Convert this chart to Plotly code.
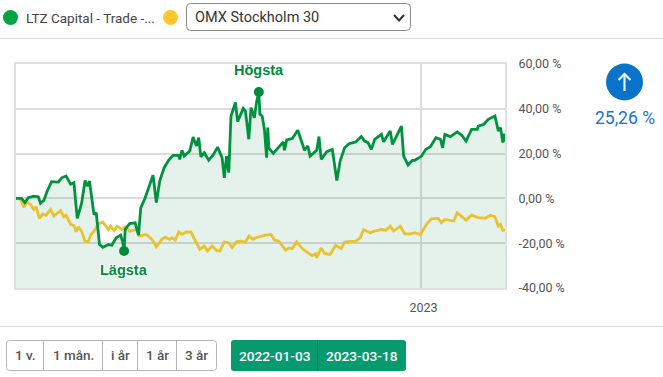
import pandas as pd
import plotly.graph_objects as go

START_DATE = "2022-01-03"
END_DATE = "2023-03-18"

ltz_days = [0,5,8,11,16,20,22,25,28,32,38,41,45,49,52,55,59,62,64,66,70,72,75,78,83,86,90,94,96,97,98,102,107,110,112,116,123,126,129,133,137,141,146,147,149,151,156,159,162,164,166,169,173,177,181,185,187,189,191,193,197,199,204,206,209,211,214,216,218,219,221,223,225,226,227,231,240,241,243,248,253,257,259,262,264,270,272,274,279,284,288,291,295,299,305,310,313,316,319,322,328,330,336,338,342,346,348,352,356,358,361,364,368,372,377,381,383,385,390,396,400,404,409,414,415,420,424,430,433,435,437,438,439]
ltz_values = [0,0,-1.9,0.3,1.0,0.7,-2.2,-0.9,3.3,7.5,7.3,9.2,10,6.3,7,-8.9,-1.9,8,5.5,7.7,-7.2,-6.4,-20.6,-21.8,-20.6,-20.9,-17.6,-16.4,-19.8,-23.5,-13.9,-11.2,-10.9,-16.4,-4.2,0.3,10.4,-1.9,7.7,13.7,17,19.2,19.2,17.4,21.5,18.9,21.2,27.4,23.4,27.1,18.6,20.4,17.1,19.4,22.9,18.2,9.2,18.9,11.5,36.8,42.8,34.3,40.2,39,26.4,40.5,36,43.2,47.5,37.5,36.8,30.8,18.2,31.6,22.4,20.1,25.2,21.5,26.1,26.7,30.4,24.1,21.5,23.4,18.9,21.5,27.6,17.4,20.9,21.9,8,16.7,22.6,24.4,25.2,27.6,25.6,24.9,21.9,26.4,28.6,25.3,30.1,24.1,27.9,32.3,18.9,14.9,17.1,17,17.9,18.9,21.9,23.1,27.1,26.4,22.6,28.6,27.6,29.7,28.3,25.6,30.8,30.8,32.3,33.1,35.3,36.8,30.1,31.6,24.9,28.9,25.26]

omx_days = [0,4,7,10,13,16,18,21,24,27,31,34,40,43,45,49,52,54,56,59,62,65,67,70,74,78,83,85,88,91,95,98,102,108,111,117,122,126,131,134,138,140,143,146,149,153,157,161,165,169,172,176,180,183,187,191,194,198,202,206,209,213,215,219,224,229,232,236,242,245,248,252,257,262,266,269,270,274,277,282,287,292,295,305,309,312,318,322,328,332,336,339,345,349,354,358,363,369,373,379,382,385,393,396,400,404,409,415,421,426,430,433,435,437,439]
omx_values = [0,-0.4,-3.9,-1.6,-2.7,-4.9,-3.7,-8.9,-6.9,-7.5,-4.9,-7.9,-5.4,-8.3,-7.6,-11.6,-12.1,-14.9,-12.7,-14.9,-19.1,-19.4,-16.4,-14.6,-11.3,-10.6,-13.9,-12.4,-14.3,-12.4,-13.9,-12.7,-14.6,-13.9,-16.8,-16.1,-18.3,-21.6,-18.3,-17.3,-18.3,-17.6,-18.6,-15,-16.1,-15,-15,-19.1,-22.8,-21.3,-23.5,-21.3,-23.2,-23.5,-19.4,-19.8,-22,-19.4,-19.1,-19.5,-16.8,-18.3,-17.6,-17.1,-16.4,-16.1,-18.6,-19.1,-23.1,-22.1,-22.4,-19.4,-22.4,-24.3,-25.5,-24.7,-26.5,-22.1,-24.6,-25,-20.9,-22.4,-19.5,-19.1,-17.6,-13.9,-15.3,-14.6,-13.9,-14.2,-12.4,-14.6,-12.4,-15.8,-15.8,-15.3,-16.1,-11.2,-9.1,-8.9,-10.9,-9.4,-10.1,-6.4,-7.9,-9.7,-7.5,-8.6,-8.9,-7.5,-8.2,-12.4,-11.6,-14.3,-13.9]

y_ticks = [60, 40, 20, 0, -20, -40]
y_tick_labels = ["60,00 %", "40,00 %", "20,00 %", "0,00 %", "-20,00 %", "-40,00 %"]
x_tick_dates = ["2023-01-02"]
x_tick_labels = ["2023"]
high_day, high_value = 218, 47.5
low_day, low_value = 97, -23.5
period_buttons = ["1 v.", "1 mån.", "i år", "1 år", "3 år"]
date_buttons = ["2022-01-03", "2023-03-18"]
series_names = ["LTZ Capital - Trade -...", "OMX Stockholm 30"]
change_label = "25,26 %"

W, H = 663, 377
GREEN = "#00933f"
YELLOW = "#e8c230"
FONT = "Roboto"

def to_dates(days):
    return pd.Timestamp(START_DATE) + pd.to_timedelta(days, unit="D")

def X(p):
    return p / W

def Y(p):
    return 1 - p / H

def rrect(x0, y0, x1, y1, r):
    return (f"M{X(x0+r)},{Y(y0)} L{X(x1-r)},{Y(y0)} Q{X(x1)},{Y(y0)} {X(x1)},{Y(y0+r)} "
            f"L{X(x1)},{Y(y1-r)} Q{X(x1)},{Y(y1)} {X(x1-r)},{Y(y1)} L{X(x0+r)},{Y(y1)} "
            f"Q{X(x0)},{Y(y1)} {X(x0)},{Y(y1-r)} L{X(x0)},{Y(y0+r)} Q{X(x0)},{Y(y0)} {X(x0+r)},{Y(y0)} Z")

ltz_x = to_dates(ltz_days)
omx_x = to_dates(omx_days)

fig = go.Figure()
# area from the axis floor up to the LTZ line
fig.add_trace(go.Scatter(x=ltz_x, y=[-40] * len(ltz_days), mode="lines", line=dict(width=0),
                         hoverinfo="skip", showlegend=False))
fig.add_trace(go.Scatter(x=ltz_x, y=ltz_values, mode="lines", line=dict(width=0),
                         fill="tonexty", fillcolor="rgba(0,135,65,0.105)",
                         hoverinfo="skip", showlegend=False))
fig.add_trace(go.Scatter(x=omx_x, y=omx_values, mode="lines", name=series_names[1],
                         line=dict(color=YELLOW, width=2.8), showlegend=False))
fig.add_trace(go.Scatter(x=ltz_x, y=ltz_values, mode="lines", name=series_names[0],
                         line=dict(color=GREEN, width=2.8), showlegend=False))
fig.add_trace(go.Scatter(x=to_dates([high_day, low_day]), y=[high_value, low_value], mode="markers",
                         marker=dict(color="#008a3c", size=10), hoverinfo="skip", showlegend=False))

shapes = []
annotations = []

def text(x, y, s, size=14, color="#444", weight=400, anchor="left", family=FONT):
    annotations.append(dict(x=X(x), y=Y(y), xref="paper", yref="paper", text=s, showarrow=False,
                            xanchor=anchor, yanchor="middle", borderpad=0,
                            font=dict(family=family, size=size, color=color, weight=weight)))

def line(x0, y0, x1, y1, color, width=1):
    shapes.append(dict(type="line", xref="paper", yref="paper", x0=X(x0), y0=Y(y0), x1=X(x1), y1=Y(y1),
                       line=dict(color=color, width=width)))

def circle(cx, cy, r, color):
    shapes.append(dict(type="circle", xref="paper", yref="paper", x0=X(cx-r), x1=X(cx+r),
                       y0=Y(cy-r), y1=Y(cy+r), fillcolor=color, line=dict(width=0)))

def path(d, fill=None, lcolor=None, width=1):
    shapes.append(dict(type="path", xref="paper", yref="paper", path=d,
                       fillcolor=fill if fill else "rgba(0,0,0,0)",
                       line=dict(color=lcolor if lcolor else "rgba(0,0,0,0)", width=width)))

# header
circle(10.5, 17.5, 7.5, "#00a441")
text(25, 17.5, series_names[0], size=13.5, color="#444")
circle(170.5, 17.5, 7.5, "#ffc72c")
path(rrect(186.5, 3.5, 410.5, 30.5, 4), fill="#fff", lcolor="#8a8a8a", width=1)
text(194, 17.5, series_names[1], size=14.5, color="#333", weight=400)
path(f"M{X(394)},{Y(15)} L{X(399)},{Y(20.5)} L{X(404)},{Y(15)}", lcolor="#333", width=2)
line(0, 38.5, W, 38.5, "#d9d9d9", 1)

# change indicator
circle(624.5, 82, 18.5, "#0a72c8")
line(624.5, 91, 624.5, 74, "#e6f1fb", 2.2)
path(f"M{X(618.5)},{Y(80)} L{X(624.5)},{Y(74)} L{X(630.5)},{Y(80)}", lcolor="#e6f1fb", width=2.2)
text(625, 118, change_label, size=17.5, color="#1a73c8", anchor="center")

# footer
line(0, 326.5, W, 326.5, "#d9d9d9", 1)
path(rrect(6.5, 340.5, 216.5, 370.5, 3), fill="#fff", lcolor="#b5b5b5", width=1)
edges = [6.5, 43.5, 102.5, 137.5, 176.5, 216.5]
for i, label in enumerate(period_buttons):
    if i:
        line(edges[i], 340.5, edges[i], 370.5, "#b5b5b5", 1)
    text((edges[i] + edges[i + 1]) / 2, 355, label, size=13.5, color="#555", weight=500, anchor="center")
path(rrect(231, 340, 406, 371, 3), fill="#069b6f")
line(317.5, 340, 317.5, 371, "#057f5b", 1)
text(274.5, 355.5, date_buttons[0], size=13.7, color="#fff", weight=500, anchor="center")
text(362, 355.5, date_buttons[1], size=13.7, color="#fff", weight=500, anchor="center")

# extreme labels
halo = "1px 1px 1px #fff, -1px -1px 1px #fff, 1px -1px 1px #fff, -1px 1px 1px #fff"
for s, d, v, shift, dx in [("Högsta", high_day, high_value, 22, 0), ("Lägsta", low_day, low_value, -19, -0.5)]:
    annotations.append(dict(x=to_dates([d])[0], y=v, xref="x", yref="y", text=s, showarrow=False,
                            yshift=shift, xshift=dx, xanchor="center", yanchor="middle",
                            font=dict(family="Liberation Sans", size=14.5, color="#008a3c", weight=700, shadow=halo)))

fig.update_layout(
    width=W, height=H, autosize=False, margin=dict(l=0, r=0, t=0, b=0),
    paper_bgcolor="#fff", plot_bgcolor="#fff", showlegend=False,
    shapes=shapes, annotations=annotations,
    xaxis=dict(domain=[16 / W, 505 / W], type="date", range=[START_DATE, END_DATE], automargin=False,
               tickvals=x_tick_dates, ticktext=x_tick_labels, ticks="", ticklen=0,
               ticklabelstandoff=7, ticklabelshift=2,
               tickfont=dict(family=FONT, size=12.5, color="#555"),
               showgrid=True, gridcolor="#dcdcdc", gridwidth=2, zeroline=False,
               showline=True, mirror=True, linecolor="#e0e0e0", linewidth=2),
    yaxis=dict(domain=[1 - 288 / H, 1 - 64 / H], range=[-40, 60], side="right", automargin=False,
               tickvals=y_ticks, ticktext=y_tick_labels, ticks="", ticklabelstandoff=9,
               tickfont=dict(family=FONT, size=12.5, color="#555"),
               showgrid=True, gridcolor="#dcdcdc", gridwidth=2, zeroline=False,
               showline=True, mirror=True, linecolor="#e0e0e0", linewidth=2),
)

fig.write_html("out.html", config=dict(displayModeBar=False),
               post_script="document.body.style.margin='0';document.body.style.overflow='hidden';")
